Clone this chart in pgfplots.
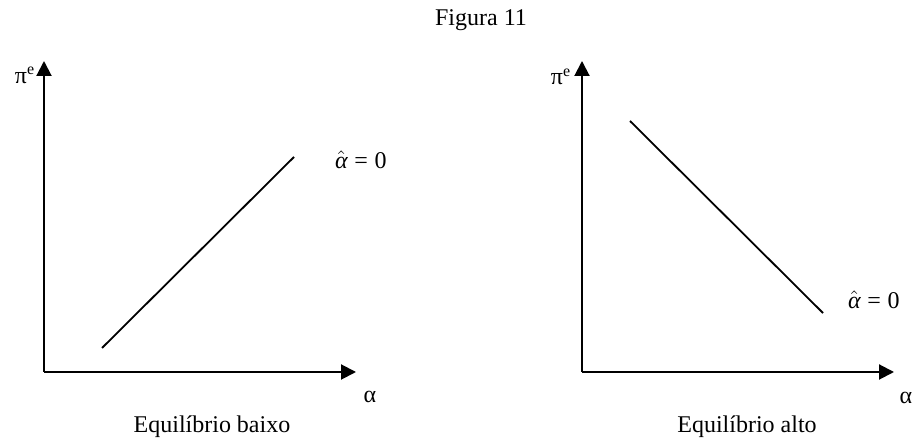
\documentclass[border=0pt]{standalone}
\usepackage{fontspec}
\setmainfont{Liberation Serif}
\usepackage{pgfplots}
\pgfplotsset{compat=1.18}
\usetikzlibrary{arrows.meta}

% Expected-inflation schedules for the two equilibria (units: drawing grid)
\pgfplotsset{
  diagram/.style={
    scale only axis,
    width=156pt, height=155.5pt,
    xmin=0, xmax=312, ymin=0, ymax=311,
    axis lines=left,
    ticks=none,
    clip=false,
    anchor=south west,
    axis line style={line width=1pt, -{Triangle[length=7.5pt,width=7.5pt]}},
    font=\fontsize{12pt}{14pt}\selectfont,
  },
  schedule/.style={black, no markers, line width=0.9pt},
}
\newcommand{\ahatzero}{$\hat{\mbox{\itshape α}}\mathrel{\mbox{=}}\mbox{0}$}

\begin{document}
\begin{tikzpicture}
\path (0,0) rectangle (460.5pt,221.5pt);

\node[font=\fontsize{12pt}{14pt}\selectfont] at (240.5pt,211.5pt) {Figura 11};

% Low equilibrium
\begin{axis}[diagram, at={(22pt,35.5pt)}]
  \addplot[schedule] coordinates {(58,24) (250,215)};
  \node[anchor=west] at (axis cs:284,212) {\ahatzero};
  \node at (axis cs:326,-25) {α};
  \node at (axis cs:-19,297) {π\textsuperscript{e}};
  \node at (axis cs:168,-55) {Equilíbrio baixo};
\end{axis}

% High equilibrium
\begin{axis}[diagram, at={(291pt,35.5pt)}]
  \addplot[schedule] coordinates {(48,251) (241,59)};
  \node[anchor=west] at (axis cs:259,72) {\ahatzero};
  \node at (axis cs:324,-26) {α};
  \node at (axis cs:-21,295) {π\textsuperscript{e}};
  \node at (axis cs:165,-55) {Equilíbrio alto};
\end{axis}
\end{tikzpicture}
\end{document}
